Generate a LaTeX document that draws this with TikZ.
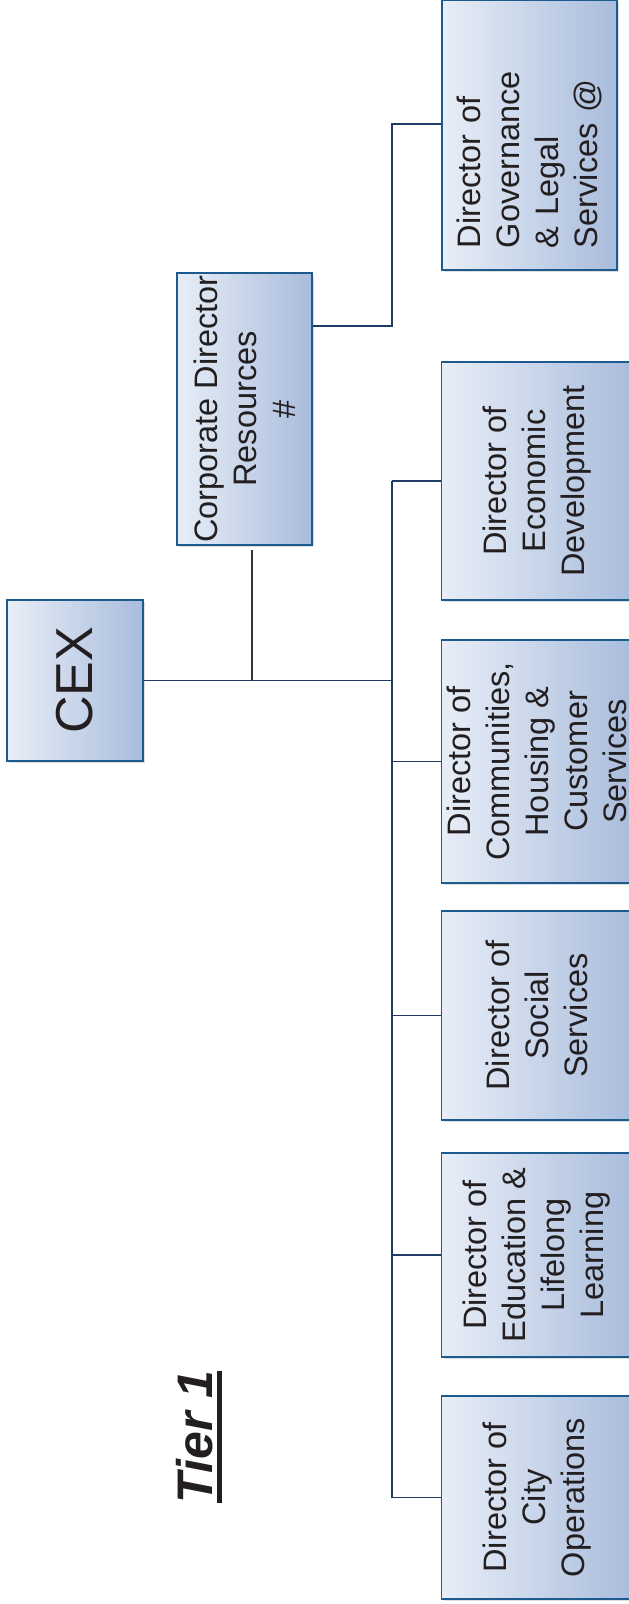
\documentclass[tikz,border=0pt]{standalone}
\usepackage{fontspec}
\setmainfont{Liberation Sans}
\usetikzlibrary{shadows}

\definecolor{boxlight}{HTML}{E8EEF7}
\definecolor{boxdark}{HTML}{A9BCDC}
\definecolor{boxedge}{HTML}{1D5B8E}
\definecolor{linkblue}{HTML}{1F3B66}
\definecolor{inkgrey}{HTML}{231F20}

\tikzset{
  post/.style={draw=boxedge, line width=1.3pt, left color=boxlight, right color=boxdark,
    rotate=90, align=center, inner sep=0pt, text=inkgrey,
    font=\fontsize{32.5}{39}\selectfont,
    drop shadow={opacity=0.25, shadow xshift=2pt, shadow yshift=-2pt}},
  link/.style={draw=linkblue, line width=1.9pt},
  stem/.style={draw=inkgrey!90, line width=1.6pt},
}

\begin{document}
\begin{tikzpicture}[x=1pt, y=1pt]
  \useasboundingbox (0,0) rectangle (629,-1604);

  % top of the tree
  \node[post, minimum width=161pt, minimum height=136pt, font=\fontsize{52}{60}\selectfont] (cex) at (75,-680.5) {CEX};
  \node[post, minimum width=272pt, minimum height=135pt] (corp) at (244.5,-409) {Corporate Director\\Resources\\\#};
  \node[post, minimum width=270pt, minimum height=175pt, align=left, text width=226pt] (gov) at (529.5,-135) {Director of\\Governance\\\& Legal\\Services @};

  % directors
  \foreach \n/\y/\h/\t in {econ/481/238/{Director of\\Economic\\Development},
                           comm/761.5/243/{Director of\\Communities,\\Housing \&\\Customer\\Services},
                           social/1015.5/209/{Director of\\Social\\Services},
                           edu/1255/204/{Director of\\Education \&\\Lifelong\\Learning},
                           city/1497.5/203/{Director of\\City\\Operations}}{
    \node[post, minimum width=\h pt, minimum height=191pt] (\n) at (537,-\y) {\t};
  }

  \node[rotate=90, inner sep=0pt, text=inkgrey, font=\fontsize{50}{60}\selectfont\bfseries\itshape] (tier) at (195,-1437) {Tier 1};
  \draw[inkgrey, line width=5pt] ([xshift=5.5pt]tier.south west) -- ([xshift=5.5pt]tier.south east);

  % connectors
  \coordinate (hub) at (392,-680.5);
  \draw[link] (cex.south) -- (hub);
  \draw[stem] ([xshift=7.5pt,yshift=-4pt]corp.west) -- ([xshift=7.5pt]corp.west |- hub);
  \coordinate (govin) at ([yshift=11pt]gov.north);
  \draw[link] ([yshift=83pt]corp.south) -| (hub |- govin) -- (govin);
  \draw[link] (hub |- econ.north) -- (hub |- city.north);
  \foreach \n in {econ,comm,social,edu,city}
    \draw[link] (hub |- \n.north) -- (\n.north);
\end{tikzpicture}
\end{document}
